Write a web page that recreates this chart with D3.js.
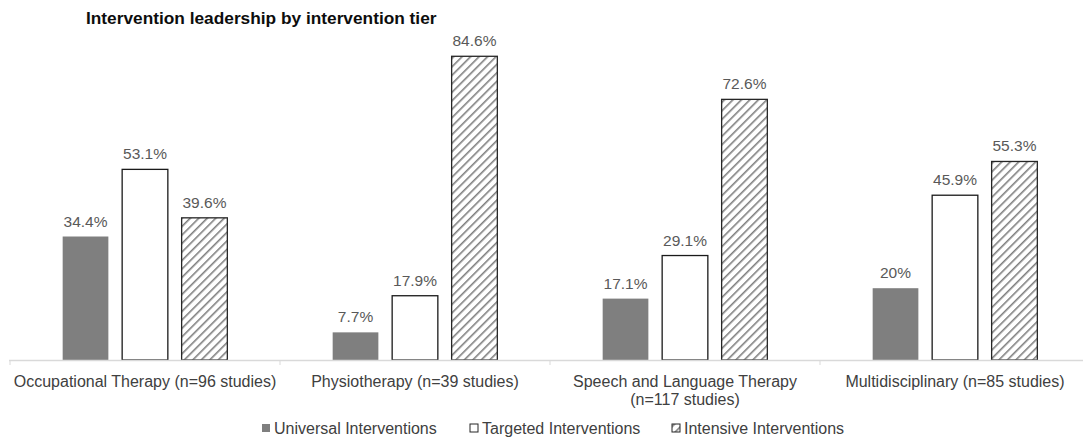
<!DOCTYPE html>
<html lang="en">
<head>
<meta charset="utf-8">
<title>Intervention leadership by intervention tier</title>
<script src="https://cdnjs.cloudflare.com/ajax/libs/d3/7.8.5/d3.min.js"></script>
<style>
  body { margin: 0; background: #fff; }
  text { font-family: "Liberation Sans", Arial, sans-serif; }
  .title { font-weight: bold; font-size: 17.3px; fill: #0d0d0d; }
  .val { font-size: 15.5px; fill: #595959; text-anchor: middle; }
  .cat { font-size: 16px; fill: #404040; text-anchor: middle; }
  .leg { font-size: 16px; fill: #404040; }
</style>
</head>
<body>
<div id="chart"></div>
<script>
// data
var categories = [
  ["Occupational Therapy (n=96 studies)"],
  ["Physiotherapy (n=39 studies)"],
  ["Speech and Language Therapy", "(n=117 studies)"],
  ["Multidisciplinary (n=85 studies)"]
];
var seriesNames = ["Universal Interventions", "Targeted Interventions", "Intensive Interventions"];
var universal = [34.4, 7.7, 17.1, 20];
var targeted = [53.1, 17.9, 29.1, 45.9];
var intensive = [39.6, 84.6, 72.6, 55.3];
var valueLabels = [
  ["34.4%", "7.7%", "17.1%", "20%"],
  ["53.1%", "17.9%", "29.1%", "45.9%"],
  ["39.6%", "84.6%", "72.6%", "55.3%"]
];

var w = 1083, h = 439;
var svg = d3.select("#chart").append("svg")
  .attr("width", w).attr("height", h);

// hatch pattern for intensive bars
var defs = svg.append("defs");
var pat = defs.append("pattern")
  .attr("id", "hatch")
  .attr("patternUnits", "userSpaceOnUse")
  .attr("width", 6).attr("height", 6)
  .attr("patternTransform", "rotate(45)");
pat.append("rect").attr("width", 6).attr("height", 6).attr("fill", "#fff");
pat.append("line").attr("x1", 0).attr("y1", 0).attr("x2", 0).attr("y2", 6)
  .attr("stroke", "#7f7f7f").attr("stroke-width", 3.2);

var x0 = d3.scaleBand()
  .domain(d3.range(categories.length))
  .range([10, 1090]);
var x1 = d3.scaleBand()
  .domain(d3.range(seriesNames.length))
  .range([0, x0.bandwidth()])
  .paddingInner(0.215)
  .paddingOuter(0.877);
var y = d3.scaleLinear().domain([0, 100]).range([360, 1]);

var fills = ["#7f7f7f", "#fff", "url(#hatch)"];
var strokes = ["none", "#1a1a1a", "#262626"];
var seriesVals = [universal, targeted, intensive];

// title
svg.append("text").attr("class", "title")
  .attr("x", 86).attr("y", 24)
  .text("Intervention leadership by intervention tier");

// bars
seriesVals.forEach(function(vals, s) {
  var g = svg.append("g");
  g.selectAll("rect")
    .data(vals)
    .enter()
    .append("rect")
    .attr("x", function(d, i) { return x0(i) + x1(s) + 0.5; })
    .attr("y", function(d) { return y(d); })
    .attr("width", x1.bandwidth() - 1)
    .attr("height", function(d) { return y(0) - y(d); })
    .attr("fill", fills[s])
    .attr("stroke", strokes[s])
    .attr("stroke-width", 1.3);

  g.selectAll("text")
    .data(vals)
    .enter()
    .append("text")
    .attr("class", "val")
    .attr("x", function(d, i) { return x0(i) + x1(s) + x1.bandwidth() / 2; })
    .attr("y", function(d) { return y(d) - 10; })
    .text(function(d, i) { return valueLabels[s][i]; });
});

// axis line and ticks
svg.append("line")
  .attr("x1", 9).attr("x2", w)
  .attr("y1", y(0) + 0.5).attr("y2", y(0) + 0.5)
  .attr("stroke", "#d9d9d9").attr("stroke-width", 1.3);
svg.selectAll(".tick")
  .data(d3.range(0, categories.length))
  .enter()
  .append("line")
  .attr("x1", function(i) { return x0(i); })
  .attr("x2", function(i) { return x0(i); })
  .attr("y1", y(0)).attr("y2", y(0) + 5)
  .attr("stroke", "#d9d9d9");

// category labels
var cats = svg.selectAll(".cat")
  .data(categories)
  .enter()
  .append("text")
  .attr("class", "cat")
  .attr("x", function(d, i) { return x0(i) + x0.bandwidth() / 2; })
  .attr("y", 387);
cats.selectAll("tspan")
  .data(function(d) { return d; })
  .enter()
  .append("tspan")
  .attr("x", function() { return d3.select(this.parentNode).attr("x"); })
  .attr("dy", function(d, j) { return j === 0 ? 0 : 17.5; })
  .text(function(d) { return d; });

// legend
var legX = [262, 470, 672];
var leg = svg.selectAll(".legitem")
  .data(seriesNames)
  .enter()
  .append("g")
  .attr("transform", function(d, i) { return "translate(" + legX[i] + ",434)"; });
leg.append("rect")
  .attr("x", 0).attr("y", -10)
  .attr("width", 8).attr("height", 8)
  .attr("fill", function(d, i) { return fills[i]; })
  .attr("stroke", function(d, i) { return i === 0 ? "none" : "#262626"; });
leg.append("text")
  .attr("class", "leg")
  .attr("x", 12).attr("y", 0)
  .text(function(d) { return d; });
</script>
</body>
</html>
